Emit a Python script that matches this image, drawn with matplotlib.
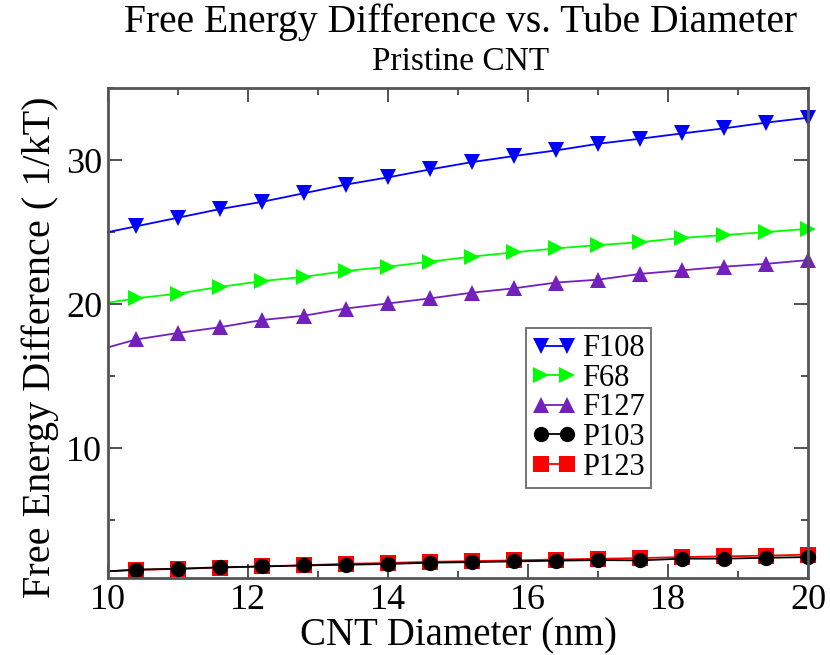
import numpy as np
import matplotlib.pyplot as plt
from matplotlib.ticker import MultipleLocator

plt.rcParams['font.family'] = ['Liberation Serif', 'DejaVu Serif']

# diameter grid (first point has no symbol)
diam = [10.0, 10.4, 11.0, 11.6, 12.2, 12.8, 13.4, 14.0, 14.6, 15.2,
        15.8, 16.4, 17.0, 17.6, 18.2, 18.8, 19.4, 20.0]

f108 = [25.0, 25.4, 26.0, 26.6, 27.1, 27.7, 28.3, 28.8, 29.35, 29.86,
        30.28, 30.67, 31.13, 31.48, 31.85, 32.2, 32.6, 32.94]
f68 = [20.1, 20.4, 20.74, 21.2, 21.6, 21.9, 22.3, 22.6, 22.95, 23.3,
       23.6, 23.87, 24.1, 24.3, 24.6, 24.8, 25.0, 25.23]
f127 = [17.0, 17.55, 18.0, 18.4, 18.9, 19.2, 19.7, 20.05, 20.4, 20.8,
        21.1, 21.5, 21.7, 22.1, 22.35, 22.6, 22.8, 23.06]
p103 = [1.46, 1.58, 1.64, 1.74, 1.8, 1.87, 1.92, 1.97, 2.06, 2.1,
        2.15, 2.2, 2.24, 2.22, 2.34, 2.34, 2.4, 2.45]
p123 = [1.46, 1.56, 1.63, 1.72, 1.8, 1.88, 1.98, 2.04, 2.12, 2.17,
        2.22, 2.28, 2.33, 2.38, 2.45, 2.5, 2.55, 2.62]

series = [
    ("F108", f108, "#0000ff", "v"),
    ("F68", f68, "#00ff00", ">"),
    ("F127", f127, "#7221bc", "^"),
    ("P103", p103, "#000000", "o"),
    ("P123", p123, "#ff0000", "s"),
]
draw_order = [4, 3, 2, 1, 0]

fig = plt.figure(figsize=(8.3, 6.55), dpi=100)
ax = fig.add_axes([0.130, 0.1176, 0.8435, 0.748])

handles = {}
for i in draw_order:
    name, vals, col, mk = series[i]
    h, = ax.plot(diam, vals, color=col, lw=1.3, marker=mk, markersize=11,
                 markevery=slice(1, None), markeredgewidth=0, label=name,
                 clip_on=False)
    handles[name] = h

ax.set_xlim(10, 20)
ax.set_ylim(1, 35)
ax.xaxis.set_major_locator(MultipleLocator(2))
ax.xaxis.set_minor_locator(MultipleLocator(1))
ax.yaxis.set_major_locator(MultipleLocator(10))
ax.yaxis.set_minor_locator(MultipleLocator(5))
ax.tick_params(which='both', direction='in', top=True, right=True,
               width=1.3, color='#444444')
ax.tick_params(which='major', length=10, labelsize=26, pad=4)
ax.tick_params(which='minor', length=5)
for s in ax.spines.values():
    s.set_linewidth(2)
    s.set_color('#555555')

# axis titles placed by hand, like the Grace original
fig.text(0.552, 1 - 645 / 655, "CNT Diameter (nm)", fontsize=28,
         ha='center', va='baseline')
fig.text(0.048, 0.47, "Free Energy Difference ( 1/kT)", fontsize=29,
         ha='center', va='center', rotation=90)

fig.text(0.555, 0.966, "Free Energy Difference vs. Tube Diameter",
         ha='center', va='center', fontsize=28.5)
fig.text(0.555, 0.905, "Pristine CNT", ha='center', va='center', fontsize=24)

leg = ax.legend([handles[s[0]] for s in series], [s[0] for s in series],
                loc='upper left', bbox_to_anchor=(0.597, 0.51),
                fontsize=22, frameon=True, fancybox=False, borderpad=0.2,
                labelspacing=0.02, handlelength=1.45, handletextpad=0.2,
                borderaxespad=0, numpoints=2)
leg.get_frame().set_edgecolor('#444444')
leg.get_frame().set_linewidth(1.3)

fig.savefig("out.png", dpi=100)
